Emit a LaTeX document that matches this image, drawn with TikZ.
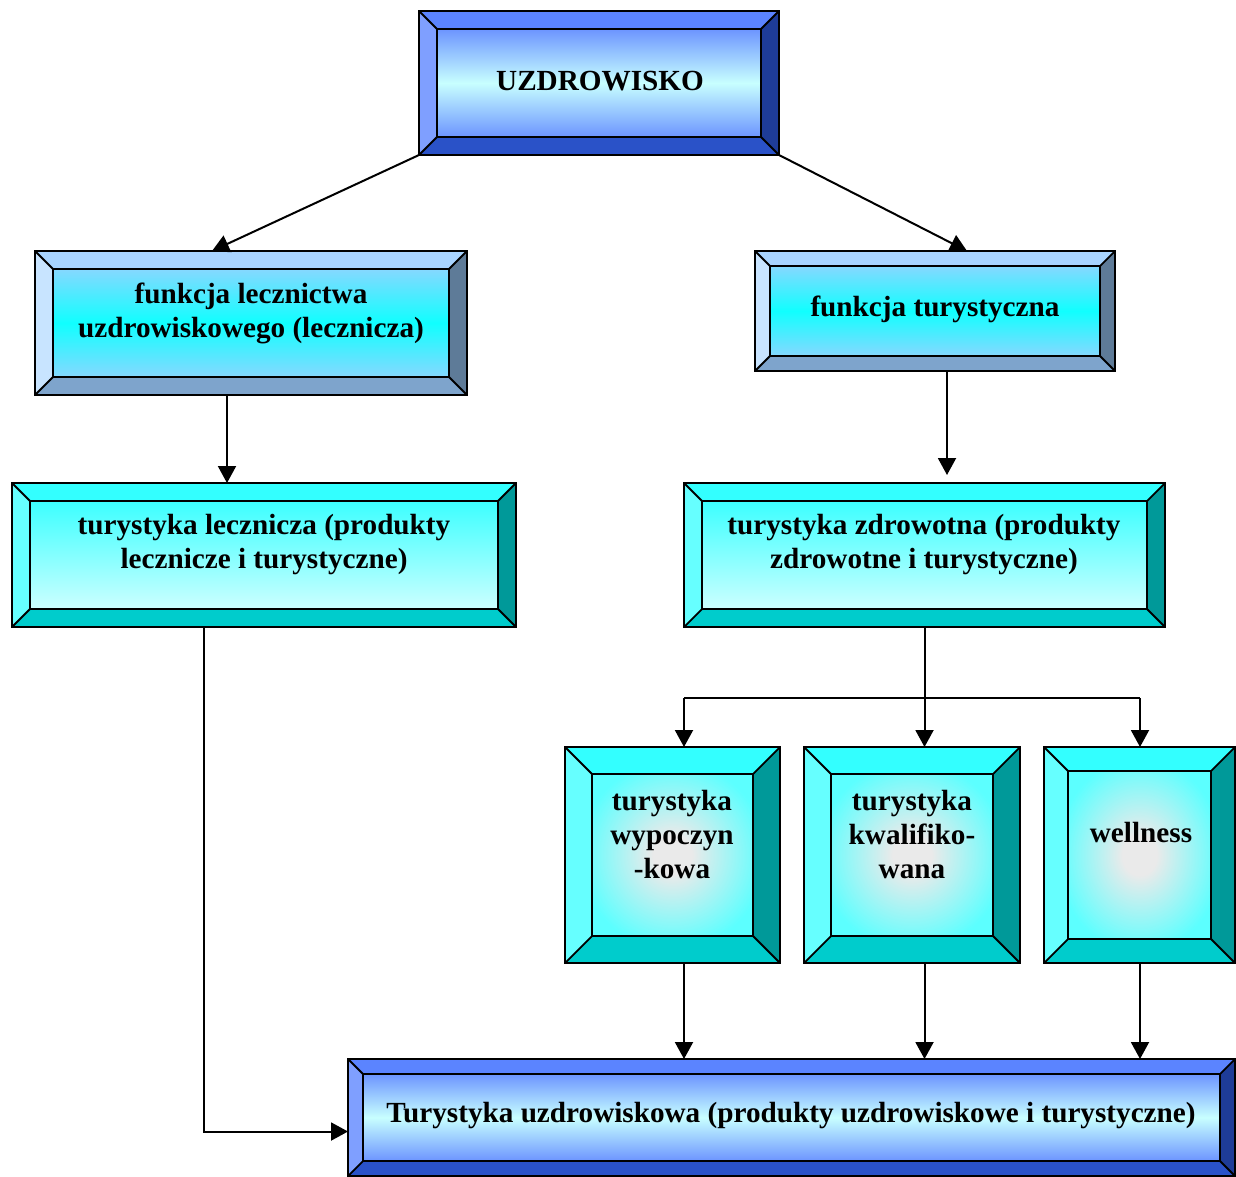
\documentclass[tikz,border=0pt]{standalone}
\usepackage{fontspec}
\setmainfont{Liberation Serif}
\usetikzlibrary{arrows.meta}

% bevel colour schemes
\definecolor{blT}{HTML}{5B84FF}\definecolor{blL}{HTML}{7F9FFF}
\definecolor{blR}{HTML}{1E3C98}\definecolor{blB}{HTML}{2A52C8}
\definecolor{blE}{HTML}{6C94FF}\definecolor{blM}{HTML}{C8FFFF}

\definecolor{lbT}{HTML}{A8D4FF}\definecolor{lbL}{HTML}{C8E4FF}
\definecolor{lbR}{HTML}{5E7B98}\definecolor{lbB}{HTML}{7EA4CC}
\definecolor{lbE}{HTML}{86D8FF}\definecolor{lbM}{HTML}{10FFFF}

\definecolor{cyT}{HTML}{33FFFF}\definecolor{cyL}{HTML}{66FFFF}
\definecolor{cyR}{HTML}{009999}\definecolor{cyB}{HTML}{00CCCC}
\definecolor{cyI}{HTML}{3CFFFF}\definecolor{cyO}{HTML}{CCFFFF}
\definecolor{cyG}{HTML}{EAEAEA}\definecolor{cyH}{HTML}{5CFFFF}

% soft centre glow for the square boxes
\pgfdeclareradialshading{softglow}{\pgfpoint{0bp}{0bp}}{%
  color(0bp)=(cyG); color(6bp)=(cyG); color(29bp)=(cyH); color(50bp)=(cyH)}

\tikzset{
  edge/.style={draw=black, line width=1.8pt, line join=miter},
  arr/.style={line width=2pt, -{Triangle[length=17pt,width=18pt]}},
  wire/.style={line width=2pt},
  label/.style={align=center, inner sep=0pt, text=black,
    font=\fontsize{29.2}{34}\selectfont\bfseries},
  boxanchor/.style={inner sep=0pt, outer sep=0pt},
  blfill/.style={top color=blE, bottom color=blE, middle color=blM},
  lbfill/.style={top color=lbE, bottom color=lbE, middle color=lbM},
  cyfill/.style={top color=cyI, bottom color=cyO},
  sqfill/.style={shading=softglow},
}

% #1 name, #2 x1, #3 y1, #4 x2, #5 y2, #6 bevel, #7 scheme (bl/lb/cy), #8 inner shading style
\newcommand\bevelbox[8]{%
  \coordinate (#1-A) at (#2,#3);
  \coordinate (#1-B) at (#4,#3);
  \coordinate (#1-C) at (#4,#5);
  \coordinate (#1-D) at (#2,#5);
  \coordinate (#1-a) at ({#2+#6},{#3+#6});
  \coordinate (#1-b) at ({#4-#6},{#3+#6});
  \coordinate (#1-c) at ({#4-#6},{#5-#6});
  \coordinate (#1-d) at ({#2+#6},{#5-#6});
  \fill[#7T] (#1-A) -- (#1-B) -- (#1-b) -- (#1-a) -- cycle;
  \fill[#7L] (#1-A) -- (#1-D) -- (#1-d) -- (#1-a) -- cycle;
  \fill[#7R] (#1-B) -- (#1-C) -- (#1-c) -- (#1-b) -- cycle;
  \fill[#7B] (#1-D) -- (#1-C) -- (#1-c) -- (#1-d) -- cycle;
  \shade[#8] (#1-a) rectangle (#1-c);
  \draw[edge] (#1-A) rectangle (#1-C);
  \draw[edge] (#1-a) rectangle (#1-c);
  \draw[edge] (#1-A) -- (#1-a) (#1-B) -- (#1-b) (#1-C) -- (#1-c) (#1-D) -- (#1-d);
  \node[boxanchor, minimum width={(#4-#2)*1pt}, minimum height={(#5-#3)*1pt}]
    (#1) at ({(#2+#4)/2},{(#3+#5)/2}) {};
}

\begin{document}
\begin{tikzpicture}[x=1pt, y=-1pt]
  \useasboundingbox[fill=white] (0,0) rectangle (1236,1176);

  % boxes
  \bevelbox{top}{419}{11}{779}{155}{18}{bl}{blfill}
  \bevelbox{fl}{35}{251}{467}{395}{18}{lb}{lbfill}
  \bevelbox{ft}{755}{251}{1115}{371}{15}{lb}{lbfill}
  \bevelbox{tl}{12}{483}{516}{627}{18}{cy}{cyfill}
  \bevelbox{tz}{684}{483}{1165}{627}{18}{cy}{cyfill}
  \bevelbox{tw}{565}{747}{780}{963}{27}{cy}{sqfill}
  \bevelbox{tk}{804}{747}{1020}{963}{27}{cy}{sqfill}
  \bevelbox{we}{1044}{747}{1235}{963}{24}{cy}{sqfill}
  \bevelbox{tu}{348}{1059}{1235}{1176}{15}{bl}{blfill}

  % labels
  \node[label] (top-t) at (600,81) {UZDROWISKO};
  \node[label] (fl-t) at (251,313) {funkcja lecznictwa\\uzdrowiskowego (lecznicza)};
  \node[label] (ft-t) at (935,309) {funkcja turystyczna};
  \node[label] (tl-t) at (264,545) {turystyka lecznicza (produkty\\lecznicze i turystyczne)};
  \node[label] (tz-t) at (924,545) {turystyka zdrowotna (produkty\\zdrowotne i turystyczne)};
  \node[label] (tw-t) at (672,834) {turystyka\\wypoczyn\\-kowa};
  \node[label] (tk-t) at (912,834) {turystyka\\kwalifiko-\\wana};
  \node[label] (we-t) at (1141,832) {wellness};
  \node[label] (tu-t) at (791,1116) {Turystyka uzdrowiskowa (produkty uzdrowiskowe i turystyczne)};

  % branch points
  \coordinate (c-fl) at ([xshift=192pt]fl.south west);
  \coordinate (c-ft) at ([xshift=192pt]ft.south west);
  \coordinate (c-tl) at ([xshift=192pt]tl.south west);
  \coordinate (split) at ([yshift=-71pt]tz.south);
  \coordinate (split-l) at ([xshift=119pt]tw.north west |- split);
  \coordinate (split-r) at ([xshift=96pt]we.north west |- split);
  \coordinate (c-tw) at ([xshift=119pt]tw.south west);
  \coordinate (c-tk) at (tk.south -| split);
  \coordinate (c-we) at ([xshift=96pt]we.south west);

  % connectors
  \draw[arr] (top.south west) -- ([xshift=177pt]fl.north west);
  \draw[arr] (top.south east) -- ([xshift=212pt]ft.north west);
  \draw[arr] (c-fl) -- (c-fl |- tl.north);
  \draw[arr] (c-ft) -- ([yshift=8pt]c-ft |- tz.north);
  \draw[wire] (tz.south) -- (split);
  \draw[wire] (split-l) -- (split-r);
  \draw[arr] (split-l) -- (split-l |- tw.north);
  \draw[arr] (split) -- (split |- tk.north);
  \draw[arr] (split-r) -- (split-r |- we.north);
  \draw[arr] (c-tw) -- (c-tw |- tu.north);
  \draw[arr] (c-tk) -- (c-tk |- tu.north);
  \draw[arr] (c-we) -- (c-we |- tu.north);
  \draw[arr] (c-tl) |- ([yshift=-14pt]tu.west);
\end{tikzpicture}
\end{document}
